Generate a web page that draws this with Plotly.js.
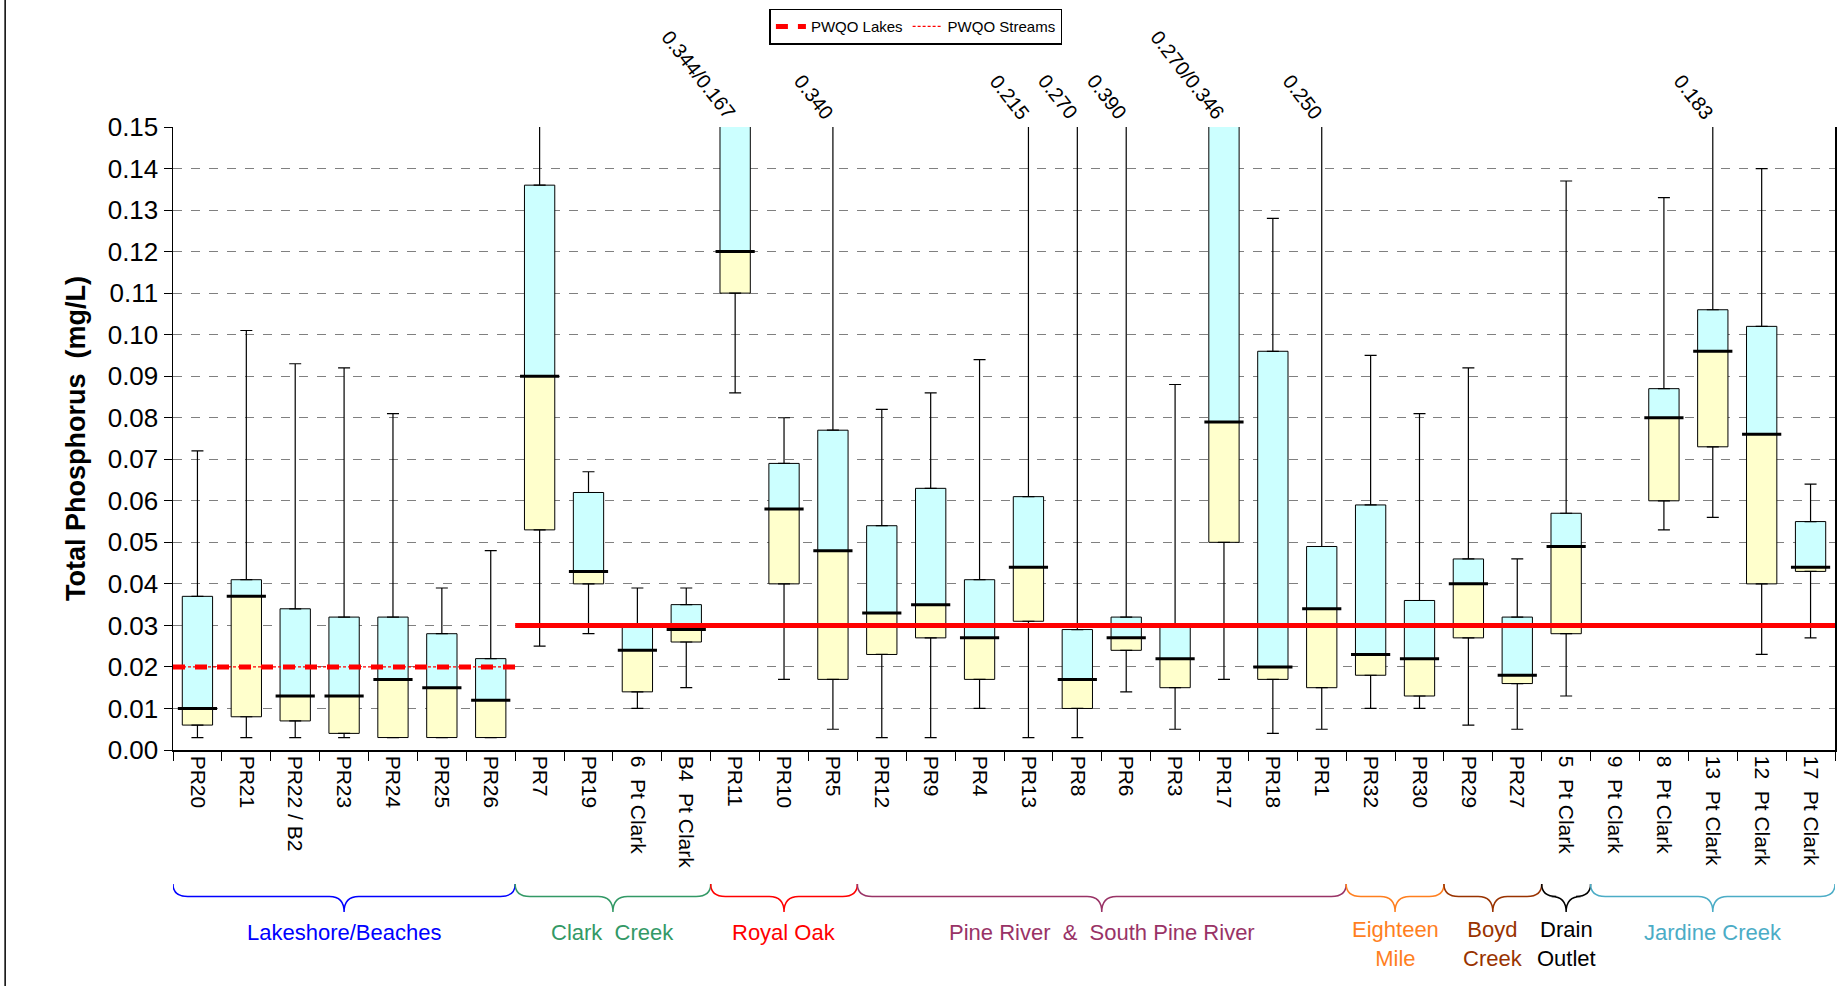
<!DOCTYPE html>
<html>
<head>
<meta charset="utf-8">
<script src="https://cdn.plot.ly/plotly-3.0.1.min.js"></script>
<style>html,body{margin:0;padding:0;background:#fff;}</style>
</head>
<body>
<div id="chart" style="width:1837px;height:986px;"></div>
<script>
// sites along the x axis
const sites = ['PR20', 'PR21', 'PR22 / B2', 'PR23', 'PR24', 'PR25', 'PR26', 'PR7', 'PR19', '6  Pt Clark',
  'B4  Pt Clark', 'PR11', 'PR10', 'PR5', 'PR12', 'PR9', 'PR4', 'PR13', 'PR8', 'PR6', 'PR3', 'PR17', 'PR18',
  'PR1', 'PR32', 'PR30', 'PR29', 'PR27', '5  Pt Clark', '9  Pt Clark', '8  Pt Clark', '13  Pt Clark',
  '12  Pt Clark', '17  Pt Clark'];

// box statistics (mg/L); null = no data
const minVals = [0.003, 0.003, 0.003, 0.003, 0.003, 0.003, 0.003, 0.025, 0.028, 0.010, 0.015, 0.086, 0.017, 0.005,
  0.003, 0.003, 0.010, 0.003, 0.003, 0.014, 0.005, 0.017, 0.004, 0.005, 0.010, 0.010, 0.006, 0.005, 0.013, null,
  0.053, 0.056, 0.023, 0.027];
const q1Vals = [0.006, 0.008, 0.007, 0.004, 0.003, 0.003, 0.003, 0.053, 0.040, 0.014, 0.026, 0.110, 0.040, 0.017,
  0.023, 0.027, 0.017, 0.031, 0.010, 0.024, 0.015, 0.050, 0.017, 0.015, 0.018, 0.013, 0.027, 0.016, 0.028, null,
  0.060, 0.073, 0.040, 0.043];
const medVals = [0.010, 0.037, 0.013, 0.013, 0.017, 0.015, 0.012, 0.090, 0.043, 0.024, 0.029, 0.120, 0.058, 0.048,
  0.033, 0.035, 0.027, 0.044, 0.017, 0.027, 0.022, 0.079, 0.020, 0.034, 0.023, 0.022, 0.040, 0.018, 0.049, null,
  0.080, 0.096, 0.076, 0.044];
const q3Vals = [0.037, 0.041, 0.034, 0.032, 0.032, 0.028, 0.022, 0.136, 0.062, 0.030, 0.035, 0.167, 0.069, 0.077,
  0.054, 0.063, 0.041, 0.061, 0.029, 0.032, 0.030, 0.270, 0.096, 0.049, 0.059, 0.036, 0.046, 0.032, 0.057, null,
  0.087, 0.106, 0.102, 0.055];
const maxVals = [0.072, 0.101, 0.093, 0.092, 0.081, 0.039, 0.048, 0.160, 0.067, 0.039, 0.039, 0.344, 0.080, 0.340,
  0.082, 0.086, 0.094, 0.215, 0.270, 0.390, 0.088, 0.346, 0.128, 0.250, 0.095, 0.081, 0.092, 0.046, 0.137, null,
  0.133, 0.183, 0.140, 0.064];

// labels for values beyond the axis
const overIdx = [11, 13, 17, 18, 19, 21, 23, 31];
const overText = ['0.344/0.167', '0.340', '0.215', '0.270', '0.390', '0.270/0.346', '0.250', '0.183'];

// site groups: first index, last index, name, colour
const groups = [
  [0, 6, 'Lakeshore/Beaches', '#0000ff'],
  [7, 10, 'Clark  Creek', '#339966'],
  [11, 13, 'Royal Oak', '#ff0000'],
  [14, 23, 'Pine River  &  South Pine River', '#993366'],
  [24, 25, 'Eighteen<br>Mile', '#ff7f1f'],
  [26, 27, 'Boyd<br>Creek', '#993300'],
  [28, 28, 'Drain<br>Outlet', '#000000'],
  [29, 33, 'Jardine Creek', '#4bacc6']
];

const lakesPWQO = 0.02;
const streamsPWQO = 0.03;

const idx = sites.map((s, i) => i);
const lowHeight = medVals.map((m, i) => m === null ? null : m - q1Vals[i]);
const upHeight = q3Vals.map((q, i) => q === null ? null : q - medVals[i]);

const traces = [
  {
    type: 'bar', x: idx, y: lowHeight, base: q1Vals, width: 0.62, showlegend: false, hoverinfo: 'skip',
    marker: {color: '#ffffcc', line: {color: '#000', width: 1}}
  },
  {
    type: 'bar', x: idx, y: upHeight, base: medVals, width: 0.62, showlegend: false, hoverinfo: 'skip',
    marker: {color: '#ccffff', line: {color: '#000', width: 1}}
  },
  // upper whiskers
  {
    type: 'scatter', mode: 'markers', x: idx, y: q3Vals, showlegend: false, hoverinfo: 'skip',
    marker: {size: 1, color: 'rgba(0,0,0,0)'},
    error_y: {type: 'data', symmetric: false, array: maxVals.map((m, i) => m === null ? null : m - q3Vals[i]),
      arrayminus: idx.map(() => 0), color: '#000', thickness: 1.2, width: 6}
  },
  // lower whiskers
  {
    type: 'scatter', mode: 'markers', x: idx, y: q1Vals, showlegend: false, hoverinfo: 'skip',
    marker: {size: 1, color: 'rgba(0,0,0,0)'},
    error_y: {type: 'data', symmetric: false, array: idx.map(() => 0),
      arrayminus: minVals.map((m, i) => m === null ? null : q1Vals[i] - m), color: '#000', thickness: 1.2, width: 6}
  },
  // medians
  {
    type: 'scatter', mode: 'markers', x: idx, y: medVals, showlegend: false, hoverinfo: 'skip',
    marker: {symbol: 'line-ew', size: 28, line: {color: '#000', width: 3}}
  },
  {
    type: 'scatter', mode: 'lines', x: [-0.5, 6.5], y: [lakesPWQO, lakesPWQO], name: 'PWQO Lakes',
    line: {color: '#ff0000', width: 5, dash: '12px,10px'}
  },
  {
    type: 'scatter', mode: 'lines', x: [-0.5, 6.5], y: [lakesPWQO, lakesPWQO], name: 'PWQO Streams',
    line: {color: '#ff0000', width: 1.2, dash: '3px,2px'}
  },
  {
    type: 'scatter', mode: 'lines', x: [6.5, 33.5], y: [streamsPWQO, streamsPWQO], showlegend: false,
    line: {color: '#ff0000', width: 5}
  }
];

const annotations = overIdx.map((i, k) => ({
  x: i, y: 0.15, xref: 'x', yref: 'y', text: overText[k], showarrow: false, textangle: 52,
  xanchor: 'right', yanchor: 'bottom', xshift: 8, yshift: 1,
  font: {family: 'Liberation Sans, Arial', size: 20, color: '#000'}
}));

// group braces below the tick labels
const braceTop = -0.215, braceMid = -0.235, braceBot = -0.26;
const shapes = [];
groups.forEach(g => {
  const x0 = g[0] - 0.5, x1 = g[1] + 0.5, xm = (x0 + x1) / 2, d = 0.3;
  shapes.push({
    type: 'path', xref: 'x', yref: 'paper', line: {color: g[3], width: 1.5},
    path: `M ${x0},${braceTop} Q ${x0},${braceMid} ${x0 + d},${braceMid} L ${xm - d},${braceMid} ` +
      `Q ${xm},${braceMid} ${xm},${braceBot} Q ${xm},${braceMid} ${xm + d},${braceMid} ` +
      `L ${x1 - d},${braceMid} Q ${x1},${braceMid} ${x1},${braceTop}`
  });
  const two = g[2].indexOf('<br>') >= 0;
  annotations.push({
    x: xm, y: two ? -0.265 : -0.27, xref: 'x', yref: 'paper', text: g[2], showarrow: false,
    yanchor: 'top', font: {family: 'Liberation Sans, Arial', size: 22, color: g[3]}
  });
});
// frame line at the left edge
shapes.push({type: 'line', xref: 'paper', yref: 'paper', x0: -0.101, x1: -0.101, y0: -0.4, y1: 1.3,
  line: {color: '#000', width: 1.5}});

const layout = {
  width: 1837, height: 986,
  margin: {l: 173, r: 2, t: 127, b: 236},
  paper_bgcolor: '#fff', plot_bgcolor: '#fff',
  font: {family: 'Liberation Sans, Arial', color: '#000'},
  showlegend: true,
  legend: {
    orientation: 'h', x: 0.447, xanchor: 'center', y: 1.19, yanchor: 'top',
    bordercolor: '#000', borderwidth: 1.5, font: {size: 15}
  },
  barmode: 'overlay',
  xaxis: {
    range: [-0.5, 33.5], tickmode: 'array', tickvals: idx, ticktext: sites, tickangle: 90,
    ticks: '', showgrid: false, zeroline: false, showline: true, linecolor: '#000', linewidth: 1.5,
    tickfont: {size: 21},
    minor: {tick0: 0.5, dtick: 1, ticks: 'outside', ticklen: 9, tickcolor: '#000', showgrid: false}
  },
  yaxis: {
    range: [0, 0.15], dtick: 0.01, tickformat: '.2f', ticks: 'outside', ticklen: 8, tickcolor: '#000',
    showline: true, linecolor: '#000', linewidth: 1.5, zeroline: false, mirror: true,
    gridcolor: '#808080', griddash: 'dash', gridwidth: 1,
    tickfont: {size: 26},
    title: {text: '<b>Total Phosphorus  (mg/L)</b>', font: {size: 27}, standoff: 14}
  },
  annotations: annotations,
  shapes: shapes
};

Plotly.newPlot('chart', traces, layout, {staticPlot: true});
</script>
</body>
</html>
